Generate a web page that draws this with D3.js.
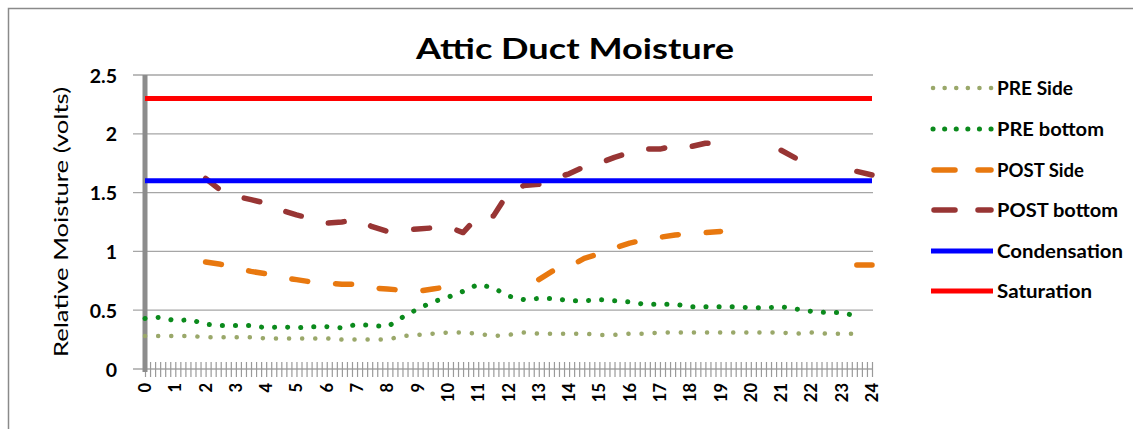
<!DOCTYPE html>
<html><head><meta charset="utf-8">
<script src="https://cdn.jsdelivr.net/npm/d3@7"></script>
<style>
body{margin:0;background:#fff}
svg{display:block}
text{font-family:Lato,"Liberation Sans",sans-serif;fill:#000}
</style>
</head><body>
<svg id="c" width="1133" height="429"></svg>
<script>
// ---- data ----
const title = "Attic Duct Moisture";
const yTitle = "Relative Moisture (volts)";
const hours = [0,0.5,1,1.5,2,2.5,3,3.5,4,4.5,5,5.5,6,6.5,7,7.5,8,8.5,9,9.5,10,10.5,11,11.5,12,12.5,13,13.5,14,14.5,15,15.5,16,16.5,17,17.5,18,18.5,19,19.5,20,20.5,21,21.5,22,22.5,23,23.5,24];
const xTickLabels = ["0","1","2","3","4","5","6","7","8","9","10","11","12","13","14","15","16","17","18","19","20","21","22","23","24"];
const yTickValues = [0,0.5,1,1.5,2,2.5];
const yTickLabels = ["0","0.5","1","1.5","2","2.5"];
const preSide = [0.28,0.28,0.28,0.28,0.27,0.27,0.27,0.27,0.26,0.26,0.26,0.26,0.26,0.25,0.25,0.25,0.25,0.28,0.29,0.30,0.31,0.31,0.30,0.28,0.29,0.31,0.30,0.30,0.30,0.30,0.29,0.29,0.30,0.30,0.31,0.31,0.31,0.31,0.31,0.31,0.31,0.31,0.31,0.30,0.31,0.30,0.30,0.30,null];
const preBottom = [0.43,0.44,0.41,0.42,0.38,0.37,0.37,0.37,0.35,0.36,0.35,0.36,0.36,0.35,0.38,0.37,0.36,0.44,0.51,0.57,0.61,0.66,0.72,0.69,0.62,0.59,0.60,0.60,0.58,0.58,0.59,0.58,0.57,0.55,0.55,0.55,0.53,0.53,0.53,0.53,0.52,0.52,0.53,0.51,0.49,0.48,0.48,0.45,null];
const postSide = [null,null,null,null,0.91,0.89,0.86,0.83,0.81,0.78,0.76,0.74,0.73,0.72,0.72,0.69,0.68,0.67,0.66,0.68,0.70,0.62,null,null,null,null,0.76,0.84,0.87,0.94,0.98,1.03,1.07,1.10,1.12,1.14,1.15,1.16,1.17,null,null,null,null,null,null,null,null,0.885,0.885];
const postBottom = [null,null,null,null,1.62,1.52,1.47,1.44,1.41,1.35,1.31,1.28,1.24,1.25,1.27,1.21,1.17,1.18,1.19,1.20,1.21,1.16,1.30,1.30,1.50,1.56,1.57,1.62,1.66,1.72,1.75,1.80,1.84,1.87,1.87,1.90,1.89,1.92,1.92,null,null,null,1.86,1.79,null,null,null,1.68,1.65];
const condensation = 1.6;
const saturation = 2.3;
const seriesNames = ["PRE Side","PRE bottom","POST Side","POST bottom","Condensation","Saturation"];

// ---- styles ----
const styles = {
  "PRE Side":    {color:"#9aa86a", width:4.5, dash:"0.1,13", cap:"round"},
  "PRE bottom":  {color:"#0b8a1c", width:5,   dash:"0.1,13", cap:"round"},
  "POST Side":   {color:"#e8780f", width:5.5, dash:"16,28",  cap:"round"},
  "POST bottom": {color:"#983534", width:5.5, dash:"16,28",  cap:"round"},
  "Condensation":{color:"#0000ff", width:5,   dash:null,     cap:"butt"},
  "Saturation":  {color:"#ff0000", width:5,   dash:null,     cap:"butt"}
};
const legendTextWidths = [76,107,87,121,126,95];

const svg = d3.select("#c");
const x = d3.scaleLinear().domain([0,24]).range([145,872]);
const y = d3.scaleLinear().domain([0,2.5]).range([369,75]);
const gridX0 = 133, gridX1 = 873;

// frame
svg.append("rect").attr("x",8.5).attr("y",8.5).attr("width",1140).attr("height",440)
  .attr("fill","none").attr("stroke","#8a8a8a").attr("stroke-width",1.5);

// title
svg.append("text").attr("x",416).attr("y",59)
  .attr("font-size",28).attr("font-weight","bold")
  .attr("textLength",318).attr("lengthAdjust","spacingAndGlyphs").text(title);

// gridlines + y labels
const yAxis = svg.append("g");
yTickValues.forEach((v,i)=>{
  yAxis.append("line").attr("x1",gridX0).attr("x2",gridX1).attr("y1",y(v)).attr("y2",y(v))
    .attr("stroke","#a6a6a6").attr("stroke-width",1.3);
  yAxis.append("text").attr("x",117).attr("y",y(v)).attr("text-anchor","end")
    .attr("dominant-baseline","central").attr("font-size",19.5).attr("font-weight","bold")
    .attr("fill","#111").text(yTickLabels[i]);
});

// y title
svg.append("text").attr("transform","translate(60,357) rotate(-90)")
  .attr("dominant-baseline","central").attr("font-size",19)
  .attr("textLength",270).attr("lengthAdjust","spacingAndGlyphs").text(yTitle);

// x minor ticks (crossing)
const minor = d3.range(0, 24*6+1).map(i=>i/6);
const xAxis = d3.axisBottom(x).tickValues(minor).tickSize(8).tickFormat("");
const gx = svg.append("g").attr("transform",`translate(0,${y(0)})`).call(xAxis);
gx.select(".domain").remove();
gx.selectAll(".tick line").attr("y1",-7).attr("y2",8).attr("stroke","#9a9a9a").attr("stroke-width",1.2);

// x labels rotated
xTickLabels.forEach((t,i)=>{
  const px = x(+t), py = 383;
  svg.append("text").attr("x",px).attr("y",py)
    .attr("transform",`rotate(-90,${px},${py})`).attr("text-anchor","end")
    .attr("dominant-baseline","central").attr("font-size",16.5).attr("font-weight","bold")
    .attr("fill","#111").text(t);
});

// y axis thick line
svg.append("line").attr("x1",145).attr("x2",145).attr("y1",y(2.5)).attr("y2",y(0)+3)
  .attr("stroke","#8c8c8c").attr("stroke-width",5);

// series
const line = d3.line().defined(d=>d.v!=null).x(d=>x(d.h)).y(d=>y(d.v));
function drawSeries(name, vals){
  const s = styles[name];
  const data = hours.map((h,i)=>({h, v: vals[i]}));
  svg.append("path").datum(data).attr("d",line).attr("fill","none")
    .attr("stroke",s.color).attr("stroke-width",s.width)
    .attr("stroke-linecap",s.cap).attr("stroke-linejoin","round")
    .attr("stroke-dasharray",s.dash);
}
drawSeries("PRE Side", preSide);
drawSeries("PRE bottom", preBottom);
drawSeries("POST Side", postSide);
drawSeries("POST bottom", postBottom);
drawSeries("Condensation", hours.map(()=>condensation));
drawSeries("Saturation", hours.map(()=>saturation));

// legend
const legY = [88,129,170,210,251,291];
seriesNames.forEach((n,i)=>{
  const s = styles[n];
  const g = svg.append("g");
  let dash = s.dash;
  if (n.startsWith("POST")) dash = "21,23";
  if (n.startsWith("PRE")) dash = "0.1,11.5";
  const x0 = n.startsWith("PRE") ? 933 : (n.startsWith("POST") ? 934 : 931);
  const x1 = n.startsWith("POST") ? 991 : 993;
  g.append("line").attr("x1",x0).attr("x2",x1).attr("y1",legY[i]).attr("y2",legY[i])
    .attr("stroke",s.color).attr("stroke-width",s.width).attr("stroke-linecap",s.cap)
    .attr("stroke-dasharray",dash);
  g.append("text").attr("x",997).attr("y",legY[i]).attr("dominant-baseline","central")
    .attr("font-size",18).attr("font-weight","bold").attr("fill","#111")
    .attr("textLength",legendTextWidths[i]).attr("lengthAdjust","spacingAndGlyphs").text(n);
});
</script>
</body></html>
